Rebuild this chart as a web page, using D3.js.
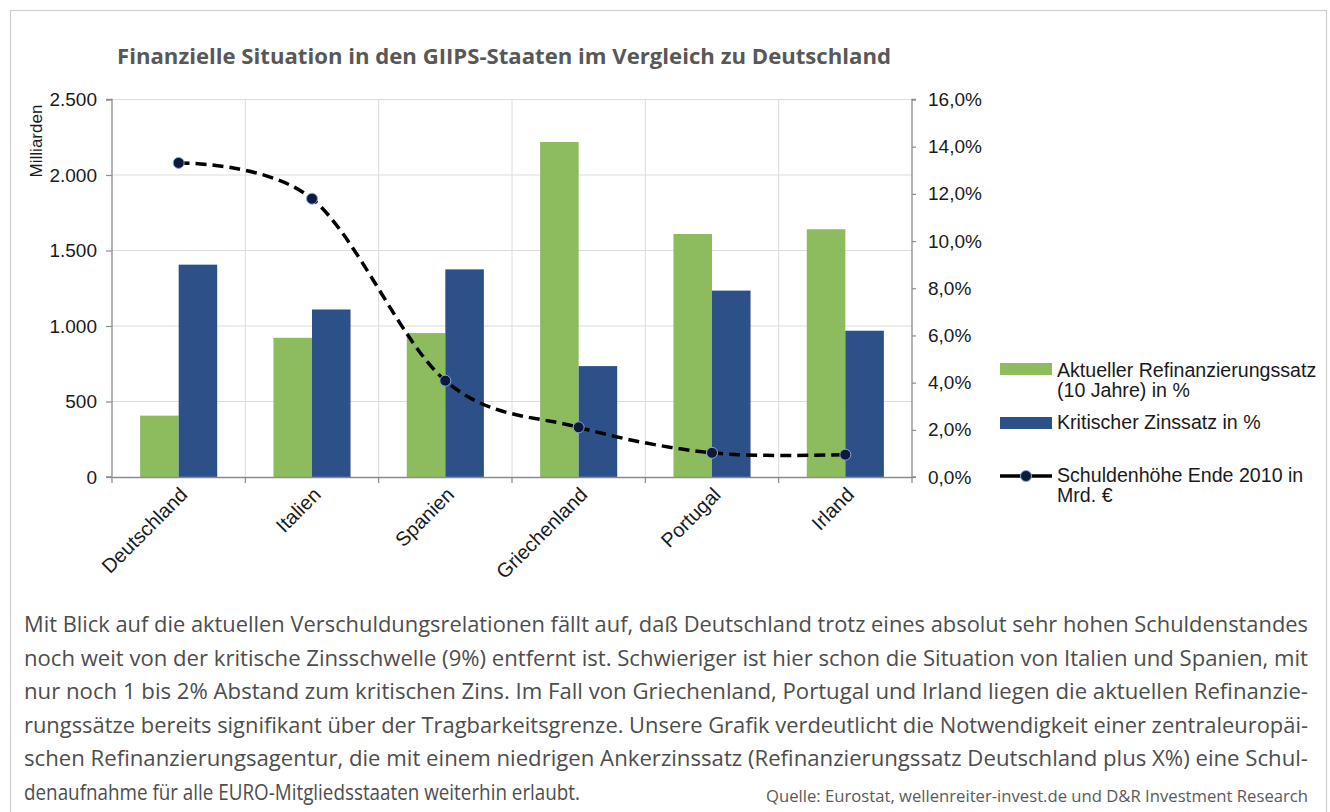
<!DOCTYPE html>
<html><head><meta charset="utf-8">
<script src="https://cdn.jsdelivr.net/npm/d3@7"></script>
<style>html,body{margin:0;padding:0;background:#fff;}svg{display:block;}</style>
</head><body>
<svg id="chart" width="1330" height="812"></svg>
<script>
const categories = ["Deutschland","Italien","Spanien","Griechenland","Portugal","Irland"];
const refiRate = [2.6, 5.9, 6.1, 14.2, 10.3, 10.5];        // Aktueller Refinanzierungssatz (10 Jahre) in %
const critRate = [9.0, 7.1, 8.8, 4.7, 7.9, 6.2];            // Kritischer Zinssatz in %
const debt = [2080, 1843, 638, 329, 160, 148];              // Schuldenhöhe Ende 2010 in Mrd. €
const leftTicks = [0, 500, 1000, 1500, 2000, 2500];
const rightTicks = [0, 2, 4, 6, 8, 10, 12, 14, 16];
const titleText = "Finanzielle Situation in den GIIPS-Staaten im Vergleich zu Deutschland";
const bodyLines = [
 "Mit Blick auf die aktuellen Verschuldungsrelationen fällt auf, daß Deutschland trotz eines absolut sehr hohen Schuldenstandes",
 "noch weit von der kritische Zinsschwelle (9%) entfernt ist. Schwieriger ist hier schon die Situation von Italien und Spanien, mit",
 "nur noch 1 bis 2% Abstand zum kritischen Zins. Im Fall von Griechenland, Portugal und Irland liegen die aktuellen Refinanzie-",
 "rungssätze bereits signifikant über der Tragbarkeitsgrenze. Unsere Grafik verdeutlicht die Notwendigkeit einer zentraleuropäi-",
 "schen Refinanzierungsagentur, die mit einem niedrigen Ankerzinssatz (Refinanzierungssatz Deutschland plus X%) eine Schul-",
 "denaufnahme für alle EURO-Mitgliedsstaaten weiterhin erlaubt."
];
const sourceText = "Quelle: Eurostat, wellenreiter-invest.de und D&R Investment Research";

const GREEN = "#8dbc5e", BLUE = "#2c5189";
const svg = d3.select("#chart");

// page frame
svg.append("rect").attr("x",10.5).attr("y",10.5).attr("width",1316).attr("height",820)
  .attr("fill","#fff").attr("stroke","#cfcfcf").attr("stroke-width",1.2);

const L = 112, R = 912, T = 99.5, B = 477;
const x = d3.scaleBand().domain(categories).range([L, R]).padding(0);
const xs = d3.scaleBand().domain([0,1]).range([0, x.bandwidth()]).paddingInner(0).paddingOuter(0.73);
const yL = d3.scaleLinear().domain([0, 2500]).range([B, T]);
const yR = d3.scaleLinear().domain([0, 16]).range([B, T]);

// title
svg.append("text").attr("x",117).attr("y",64).text(titleText)
  .attr("font-family","'Open Sans', sans-serif").attr("font-weight","bold").attr("font-size",22)
  .attr("fill","#585858").attr("textLength",774).attr("lengthAdjust","spacingAndGlyphs");

// gridlines
const g = svg.append("g");
g.selectAll("line.hg").data(leftTicks.slice(1)).join("line")
  .attr("x1",L).attr("x2",R).attr("y1",d=>yL(d)).attr("y2",d=>yL(d))
  .attr("stroke","#dcdcdc").attr("stroke-width",1);
g.selectAll("line.vg").data(categories.slice(1)).join("line")
  .attr("x1",d=>x(d)).attr("x2",d=>x(d)).attr("y1",T).attr("y2",B)
  .attr("stroke","#dcdcdc").attr("stroke-width",1);

// bars
const bars = svg.append("g");
categories.forEach((c,i)=>{
  bars.append("rect").attr("x",x(c)+xs(0)).attr("width",xs.bandwidth())
    .attr("y",yR(refiRate[i])).attr("height",B - yR(refiRate[i])).attr("fill",GREEN);
  bars.append("rect").attr("x",x(c)+xs(1)).attr("width",xs.bandwidth())
    .attr("y",yR(critRate[i])).attr("height",B - yR(critRate[i])).attr("fill",BLUE);
});

// axes
const axisFont = "'Liberation Sans', Arial, sans-serif";
const leftAxis = svg.append("g").attr("transform",`translate(${L},0)`)
  .call(d3.axisLeft(yL).tickValues(leftTicks).tickSize(6).tickPadding(9)
    .tickFormat(d=>d3.format(",")(d).replace(/,/g,".")));
const rightAxis = svg.append("g").attr("transform",`translate(${R},0)`)
  .call(d3.axisRight(yR).tickValues(rightTicks).tickSize(4).tickPadding(12)
    .tickFormat(d=>d.toFixed(1).replace(".",",")+"%"));
const bottomAxis = svg.append("g").attr("transform",`translate(0,${B})`)
  .call(d3.axisBottom(x).tickSize(0).tickFormat(""));
[leftAxis,rightAxis,bottomAxis].forEach(a=>{
  a.select(".domain").attr("stroke","#8c8c8c").attr("stroke-width",1.3);
  a.selectAll(".tick line").attr("stroke","#8c8c8c").attr("stroke-width",1.2);
  a.selectAll("text").attr("font-family",axisFont).attr("font-size",19).attr("fill","#1a1a1a");
});
leftAxis.select(".domain").attr("d",`M-6,${T}H0V${B}H-6`);
rightAxis.select(".domain").attr("d",`M4,${T}H0V${B}H4`);
// category boundary ticks
svg.append("g").selectAll("line").data(categories.map(c=>x(c)).concat([R])).join("line")
  .attr("x1",d=>d).attr("x2",d=>d).attr("y1",B).attr("y2",B+6)
  .attr("stroke","#8c8c8c").attr("stroke-width",1.2);
// category labels
svg.append("g").selectAll("text").data(categories).join("text")
  .attr("transform",d=>`translate(${x(d)+x.bandwidth()/2+10},${B+19}) rotate(-45)`)
  .attr("text-anchor","end").attr("font-family",axisFont).attr("font-size",20)
  .attr("fill","#1a1a1a").text(d=>d);

// y label
svg.append("text").attr("transform","translate(42,141) rotate(-90)")
  .attr("text-anchor","middle").attr("font-family",axisFont).attr("font-size",17)
  .attr("fill","#1a1a1a").text("Milliarden");

// line
const pts = categories.map((c,i)=>[x(c)+x.bandwidth()/2, yL(debt[i])]);
svg.append("path").attr("d",d3.line().curve(d3.curveCardinal.tension(0))(pts))
  .attr("fill","none").attr("stroke","#000").attr("stroke-width",3.5)
  .attr("stroke-dasharray","11,6");
svg.append("g").selectAll("circle").data(pts).join("circle")
  .attr("cx",d=>d[0]).attr("cy",d=>d[1]).attr("r",5.5)
  .attr("fill","#0c1b3c").attr("stroke","#8ea6d6").attr("stroke-width",1);

// legend
const lg = svg.append("g").attr("font-family",axisFont).attr("font-size",19.6).attr("fill","#1a1a1a");
lg.append("rect").attr("x",1000).attr("y",363).attr("width",52).attr("height",12).attr("fill",GREEN);
lg.append("text").attr("x",1057).attr("y",377).text("Aktueller Refinanzierungssatz");
lg.append("text").attr("x",1057).attr("y",397).text("(10 Jahre) in %");
lg.append("rect").attr("x",1000).attr("y",417).attr("width",52).attr("height",12).attr("fill",BLUE);
lg.append("text").attr("x",1057).attr("y",429).text("Kritischer Zinssatz in %");
lg.append("line").attr("x1",1000).attr("x2",1052).attr("y1",476).attr("y2",476).attr("stroke","#000").attr("stroke-width",3.5);
lg.append("circle").attr("cx",1026).attr("cy",476).attr("r",5.5).attr("fill","#0c1b3c").attr("stroke","#8ea6d6").attr("stroke-width",1);
lg.append("text").attr("x",1057).attr("y",482).text("Schuldenhöhe Ende 2010 in");
lg.append("text").attr("x",1057).attr("y",502).text("Mrd. €");

// body text
const bt = svg.append("g").attr("font-family","'Open Sans', sans-serif").attr("font-size",21).attr("fill","#4d4d4d");
bodyLines.forEach((t,i)=>{
  const el = bt.append("text").attr("x",24).attr("y",632 + i*33.5).text(t)
    .attr("lengthAdjust","spacingAndGlyphs");
  el.attr("textLength", i < bodyLines.length-1 ? 1284 : 556);
});
svg.append("text").attr("x",766).attr("y",802).text(sourceText)
  .attr("font-family","'Open Sans', sans-serif").attr("font-size",16).attr("fill","#5a5a5a")
  .attr("textLength",542).attr("lengthAdjust","spacingAndGlyphs");
</script>
</body></html>
